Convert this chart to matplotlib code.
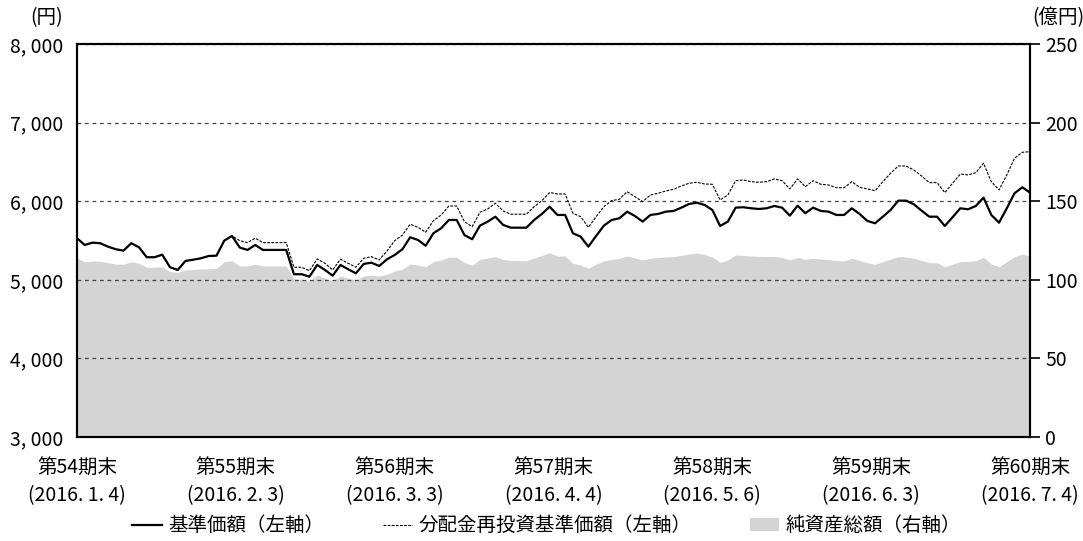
import matplotlib
matplotlib.use("Agg")
import matplotlib.pyplot as plt
from matplotlib.patches import Patch
from matplotlib.lines import Line2D

plt.rcParams["font.family"] = ["Noto Sans CJK JP", "DejaVu Sans"]

# 基準価額 (円), daily
nav = [5529, 5443, 5473, 5465, 5422, 5389, 5371, 5465, 5414, 5287,
       5287, 5320, 5160, 5125, 5240, 5256, 5274, 5303, 5307, 5498,
       5558, 5411, 5380, 5443, 5380, 5380, 5380, 5380, 5071, 5071,
       5040, 5189, 5125, 5053, 5189, 5134, 5083, 5202, 5218, 5176,
       5260, 5316, 5389, 5541, 5507, 5434, 5592, 5656, 5761, 5761,
       5570, 5516, 5689, 5740, 5803, 5698, 5663, 5663, 5663, 5761,
       5838, 5930, 5825, 5825, 5592, 5549, 5422, 5558, 5689, 5761,
       5783, 5867, 5812, 5740, 5825, 5838, 5867, 5876, 5918, 5965,
       5981, 5952, 5888, 5685, 5740, 5918, 5923, 5910, 5901, 5910,
       5939, 5918, 5816, 5943, 5847, 5918, 5876, 5867, 5825, 5825,
       5910, 5838, 5749, 5719, 5803, 5888, 6007, 6007, 5961, 5880,
       5803, 5803, 5685, 5796, 5910, 5897, 5939, 6045, 5825, 5727,
       5910, 6101, 6177, 6109]

# 分配金再投資基準価額 (円): same as nav up to the 第55期末
reinvest_tail = [5498, 5473, 5529, 5473, 5473, 5473, 5473, 5160, 5160, 5116,
                 5265, 5210, 5125, 5261, 5210, 5160, 5274, 5294, 5252, 5365,
                 5498, 5570, 5707, 5668, 5605, 5752, 5825, 5939, 5939, 5740,
                 5676, 5859, 5901, 5974, 5876, 5834, 5834, 5834, 5930, 6007,
                 6111, 6092, 6092, 5847, 5803, 5668, 5803, 5930, 6007, 6025,
                 6121, 6058, 5994, 6079, 6101, 6130, 6152, 6194, 6228, 6241,
                 6219, 6215, 6016, 6079, 6261, 6270, 6248, 6241, 6248, 6283,
                 6261, 6156, 6283, 6185, 6261, 6215, 6206, 6172, 6172, 6248,
                 6177, 6156, 6133, 6248, 6355, 6448, 6448, 6397, 6321, 6236,
                 6236, 6109, 6228, 6346, 6334, 6363, 6483, 6248, 6143, 6334,
                 6546, 6622, 6630]
reinvest = nav[:21] + reinvest_tail

# 純資産総額 (億円)
assets = [113.9, 111.5, 112.0, 111.8, 110.9, 110.0, 109.9, 111.5, 110.5, 108.0,
          108.0, 108.3, 105.2, 104.8, 106.2, 106.5, 106.9, 107.0, 107.3, 111.5,
          112.2, 108.8, 108.8, 109.9, 108.8, 108.8, 108.8, 108.8, 100.5, 100.5,
          99.2, 103.0, 101.1, 99.2, 102.4, 101.1, 99.9, 102.4, 103.0, 102.4,
          103.5, 105.6, 106.7, 110.0, 109.4, 108.3, 111.6, 112.6, 114.5, 114.3,
          110.9, 109.4, 113.0, 113.9, 114.7, 112.9, 112.3, 112.2, 112.2, 113.9,
          115.5, 117.2, 115.1, 115.1, 110.5, 109.4, 107.3, 110.0, 112.0, 112.9,
          113.7, 115.1, 113.9, 112.6, 113.7, 114.2, 114.5, 114.7, 115.5, 116.4,
          116.9, 116.1, 114.5, 111.1, 112.6, 115.8, 115.5, 115.1, 114.9, 114.7,
          114.8, 114.3, 112.6, 114.3, 113.0, 113.7, 113.2, 112.9, 112.3, 112.0,
          113.7, 112.3, 110.9, 109.9, 111.5, 113.2, 114.7, 114.5, 113.7, 112.3,
          110.9, 110.9, 108.3, 110.0, 111.5, 111.8, 112.2, 114.3, 110.0, 108.3,
          111.6, 114.7, 116.4, 115.1]

period_labels = ["第54期末\n(2016. 1. 4)", "第55期末\n(2016. 2. 3)",
                 "第56期末\n(2016. 3. 3)", "第57期末\n(2016. 4. 4)",
                 "第58期末\n(2016. 5. 6)", "第59期末\n(2016. 6. 3)",
                 "第60期末\n(2016. 7. 4)"]
left_ticks = [3000, 4000, 5000, 6000, 7000, 8000]
right_ticks = [0, 50, 100, 150, 200, 250]

FS = 14


def main() -> None:
    n = len(nav)
    x = list(range(n))

    fig = plt.figure(figsize=(10.83, 5.41), dpi=100)
    ax = fig.add_axes([0.0711, 0.1922, 0.8800, 0.7265])
    ax2 = ax.twinx()
    ax.set_zorder(ax2.get_zorder() + 1)
    ax.patch.set_visible(False)

    ax2.fill_between(x, 0, assets, color="#d4d4d4", linewidth=0)
    ax2.set_ylim(0, 250)
    ax2.set_yticks(right_ticks)
    ax2.set_yticklabels([str(v) for v in right_ticks])

    ax.plot(x, reinvest, color="black", linewidth=0.8, linestyle=(0, (2.5, 1.2)))
    ax.plot(x, nav, color="black", linewidth=1.6)
    ax.set_ylim(3000, 8000)
    ax.set_xlim(0, n - 1)
    ax.set_yticks(left_ticks)
    ax.set_yticklabels([f"{v // 1000:d}, {v % 1000:03d}" for v in left_ticks])
    ax.yaxis.grid(True, color="#444444", linestyle=(0, (3, 3)), linewidth=0.9)
    ax.tick_params(axis="y", length=0, pad=10, labelsize=FS)

    step = (n - 1) / 6
    ax.set_xticks([i * step for i in range(7)])
    ax.set_xticklabels(period_labels, fontsize=FS, linespacing=1.5)
    ax.tick_params(axis="x", length=0, pad=14)

    ax2.tick_params(axis="y", length=7, width=1.2, pad=4, labelsize=FS)
    for a in (ax, ax2):
        for s in a.spines.values():
            s.set_linewidth(1.5)
            s.set_color("black")

    fig.text(0.043, 0.967, "(円)", fontsize=FS, ha="center", va="center")
    fig.text(0.977, 0.967, "(億円)", fontsize=FS, ha="center", va="center")

    handles = [
        Line2D([], [], color="black", linewidth=1.6),
        Line2D([], [], color="black", linewidth=0.8, linestyle=(0, (2.5, 1.2))),
        Patch(facecolor="#d4d4d4", edgecolor="none"),
    ]
    labels = ["基準価額（左軸）", "分配金再投資基準価額（左軸）", "純資産総額（右軸）"]
    fig.legend(handles, labels, loc="center", bbox_to_anchor=(0.505, 0.028), ncol=3,
               frameon=False, fontsize=FS, handlelength=1.5, handletextpad=0.35,
               columnspacing=3.0)

    fig.savefig("out.png", dpi=100)
    plt.close(fig)


if __name__ == "__main__":
    main()
